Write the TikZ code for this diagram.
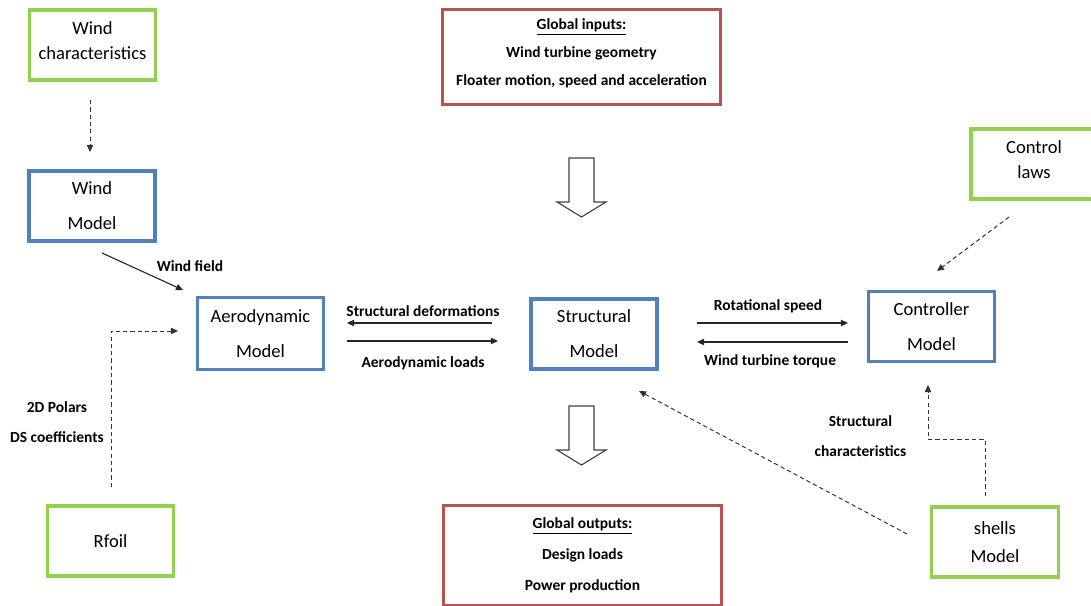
\documentclass[tikz,border=0pt]{standalone}
\usepackage{fontspec}
\setmainfont{Carlito}
\usepackage{xcolor}
\usepackage{tikz}
\usetikzlibrary{positioning, arrows.meta}

\definecolor{boxgreen}{RGB}{146,208,80}
\definecolor{boxblue}{RGB}{79,129,189}
\definecolor{boxred}{RGB}{192,80,77}

\begin{document}
\begin{tikzpicture}[
        x=0.025cm, y=-0.025cm,
        model/.style={rectangle, draw=boxblue, line width=2.4pt, fill=white, minimum width=3.15cm, minimum height=1.75cm, align=center, font=\fontsize{13.2}{24.9}\selectfont},
        source/.style={rectangle, draw=boxgreen, line width=2.4pt, fill=white, minimum width=3.15cm, minimum height=1.75cm, align=center, font=\fontsize{13.2}{17.8}\selectfont},
        global/.style={rectangle, draw=boxred, line width=2.4pt, fill=white, minimum width=6.95cm, minimum height=2.375cm, align=center, font=\fontsize{11}{19.6}\selectfont\bfseries},
        flow/.style={-{Triangle[length=5pt,width=4.5pt]}, line width=0.8pt, color=black!85},
        feed/.style={-{Triangle[length=5pt,width=4.5pt]}, line width=0.7pt, dash pattern=on 3pt off 2.2pt, color=black!80},
        label/.style={font=\fontsize{11}{21.5}\selectfont\bfseries, align=center},
        bigarrow/.style={draw=black!75, line width=0.8pt, fill=white}
        ]

        \useasboundingbox (0,0) rectangle (1091,605);

        % Global inputs and outputs
        \node[global, text depth=7pt] (ginput) at (581.5,57) {\underline{Global inputs:}\\ Wind turbine geometry\\ Floater motion, speed and acceleration};
        \node[global, minimum height=2.5cm, font=\fontsize{11}{22}\selectfont\bfseries] (goutput) at (582.5,555.5) {\underline{Global outputs:}\\ Design loads\\ Power production};

        % Models
        \node[model] (windmod) at (92,206) {Wind\\ Model};
        \node[model, minimum height=1.8cm] (aero) at (260.5,333.5) {Aerodynamic\\ Model};
        \node[model] (struct) at (594,334) {Structural\\ Model};
        \node[model] (ctrl) at (931.5,326.5) {Controller\\ Model};

        % Sources
        \node[source, text depth=6pt] (windchar) at (92.5,45) {Wind\\ characteristics};
        \node[source, text depth=6pt] (ctrllaws) at (1034,164) {Control\\ laws};
        \node[source] (rfoil) at (110.5,541) {Rfoil};
        \node[source, minimum width=3.18cm, font=\fontsize{13.2}{19.9}\selectfont] (shells) at (995,542) {shells\\ Model};

        % Hollow arrows
        \foreach \n/\y in {inarrow/158, outarrow/406} {
            \coordinate (\n) at (581.5,\y);
            \draw[bigarrow] (\n) ++(-12.5,0) -- ++(0,44) -- ++(-12,0) -- ++(24.5,15) -- ++(24.5,-15) -- ++(-12,0) -- ++(0,-44) -- cycle;
        }

        % Connector ends
        \coordinate (wc-out) at (90,100);
        \coordinate (wm-in) at (90,152);
        \coordinate (wm-out) at (102,253);
        \coordinate (aero-in) at (183,290);
        \coordinate (rf-out) at (111,487);
        \coordinate (aero-side) at (178,331);
        \coordinate (aero-r1) at (347,323);
        \coordinate (aero-r2) at (347,341);
        \coordinate (struct-l1) at (492,323);
        \coordinate (struct-l2) at (498,341);
        \coordinate (struct-r1) at (697,323);
        \coordinate (struct-r2) at (697,342);
        \coordinate (ctrl-l1) at (848,323);
        \coordinate (ctrl-l2) at (848,342);
        \coordinate (cl-out) at (1009,217);
        \coordinate (ctrl-top) at (937,271);
        \coordinate (sh-left) at (907,534);
        \coordinate (struct-in) at (639,391);
        \coordinate (sh-up) at (985,496);
        \coordinate (ctrl-in) at (928,385);

        % Solid connections
        \draw[flow] (wm-out) -- (aero-in);
        \draw[flow] (struct-l1) -- (aero-r1);
        \draw[flow] (aero-r2) -- (struct-l2);
        \draw[flow] (struct-r1) -- (ctrl-l1);
        \draw[flow] (ctrl-l2) -- (struct-r2);

        % Dashed connections
        \draw[feed] (wc-out) -- (wm-in);
        \draw[feed] (rf-out) |- (aero-side);
        \draw[feed] (cl-out) -- (ctrl-top);
        \draw[feed] (sh-left) -- (struct-in);
        \draw[feed] (sh-up) -- ++(0,-57) -| (ctrl-in);

        % Labels
        \node[label] (l-wind) at (190,266) {Wind field};
        \node[label] (l-def) at (423,311) {Structural deformations};
        \node[label] (l-loads) at (423,363) {Aerodynamic loads};
        \node[label] (l-rot) at (768,306) {Rotational speed};
        \node[label] (l-torque) at (770,361) {Wind turbine torque};
        \node[label] (l-polars) at (57,422) {2D Polars\\ DS coefficients};
        \node[label] (l-char) at (860.5,436.5) {Structural\\ characteristics};

    \end{tikzpicture}
\end{document}
